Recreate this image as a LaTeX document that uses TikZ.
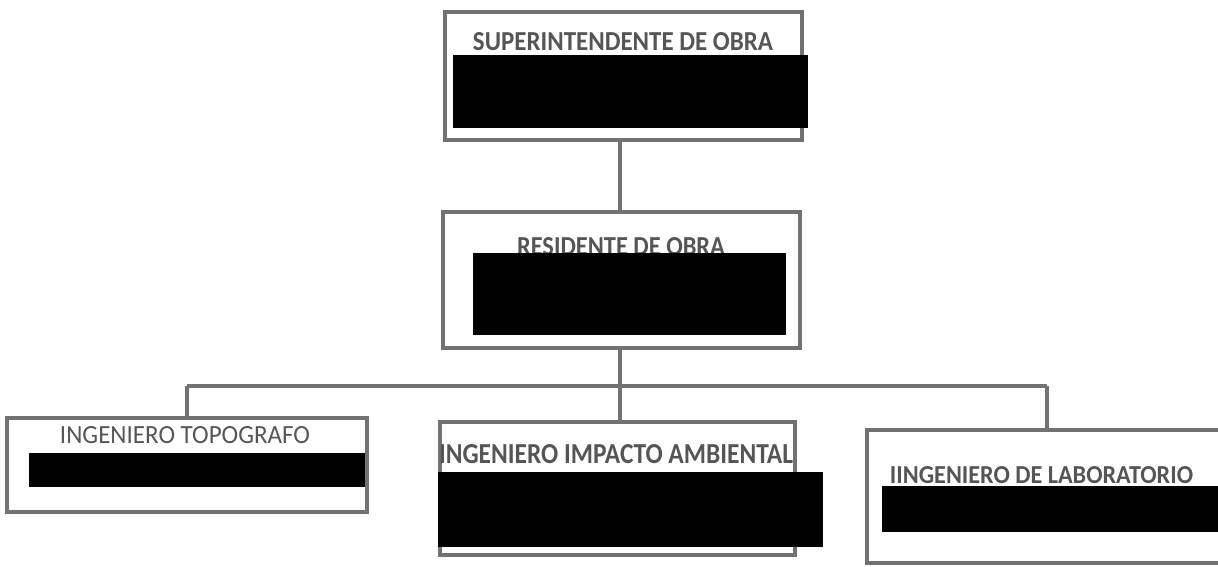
\documentclass[tikz,border=0pt]{standalone}
\usepackage{fontspec}
\setmainfont{Carlito}
\usepackage{graphicx}
\definecolor{linegray}{HTML}{727272}
\definecolor{textgray}{HTML}{555555}
\begin{document}
\begin{tikzpicture}[x=1pt,y=-1pt,
  orgbox/.style={draw=linegray,line width=4.5pt,inner sep=0pt,fill=none},
  conn/.style={draw=linegray,line width=4.5pt},
  lbl/.style={inner sep=0pt,text=textgray},
  redact/.style={fill=black}]
\useasboundingbox (0,0) rectangle (1218,566);
% boxes
\node[orgbox,minimum width=357pt,minimum height=128pt] (n1) at (623.5,76) {};
\node[orgbox,minimum width=357pt,minimum height=136pt] (n2) at (621.5,280) {};
\node[orgbox,minimum width=360pt,minimum height=94pt] (n3) at (187,465) {};
\node[orgbox,minimum width=355pt,minimum height=133pt] (n4) at (617.5,488.5) {};
\node[orgbox,minimum width=360pt,minimum height=133pt] (n5) at (1047,496.5) {};
% labels
\node[lbl] (t1) at (623,42) {\resizebox{300pt}{18pt}{\textbf{SUPERINTENDENTE DE OBRA}}};
\node[lbl] (t2) at (621,247) {\resizebox{208pt}{18pt}{\textbf{RESIDENTE DE OBRA}}};
\node[lbl] (t3) at (185,435) {\resizebox{250pt}{17pt}{INGENIERO TOPOGRAFO}};
\node[lbl] (t4) at (616,454) {\resizebox{354pt}{19pt}{\textbf{INGENIERO IMPACTO AMBIENTAL}}};
\node[lbl] (t5) at (1041.5,475.5) {\resizebox{303pt}{17pt}{\textbf{IINGENIERO DE LABORATORIO}}};
% redaction blocks
\fill[redact] (453,55) rectangle (808,128);
\fill[redact] (473,253) rectangle (786,335);
\fill[redact] (29,453) rectangle (365,487);
\fill[redact] (438,472) rectangle (823,547);
\fill[redact] (882,486) rectangle (1218,532);
% connectors
\coordinate (j) at (620,386);
\draw[conn] (n1.south -| j) -- (n2.north -| j);
\draw[conn] (n2.south -| j) -- (j);
\draw[conn] (n3.north |- j) -- (n5.north |- j);
\draw[conn] (n3.north |- j) -- (n3.north);
\draw[conn] (j) -- (n4.north -| j);
\draw[conn] (n5.north |- j) -- (n5.north);
\end{tikzpicture}
\end{document}
